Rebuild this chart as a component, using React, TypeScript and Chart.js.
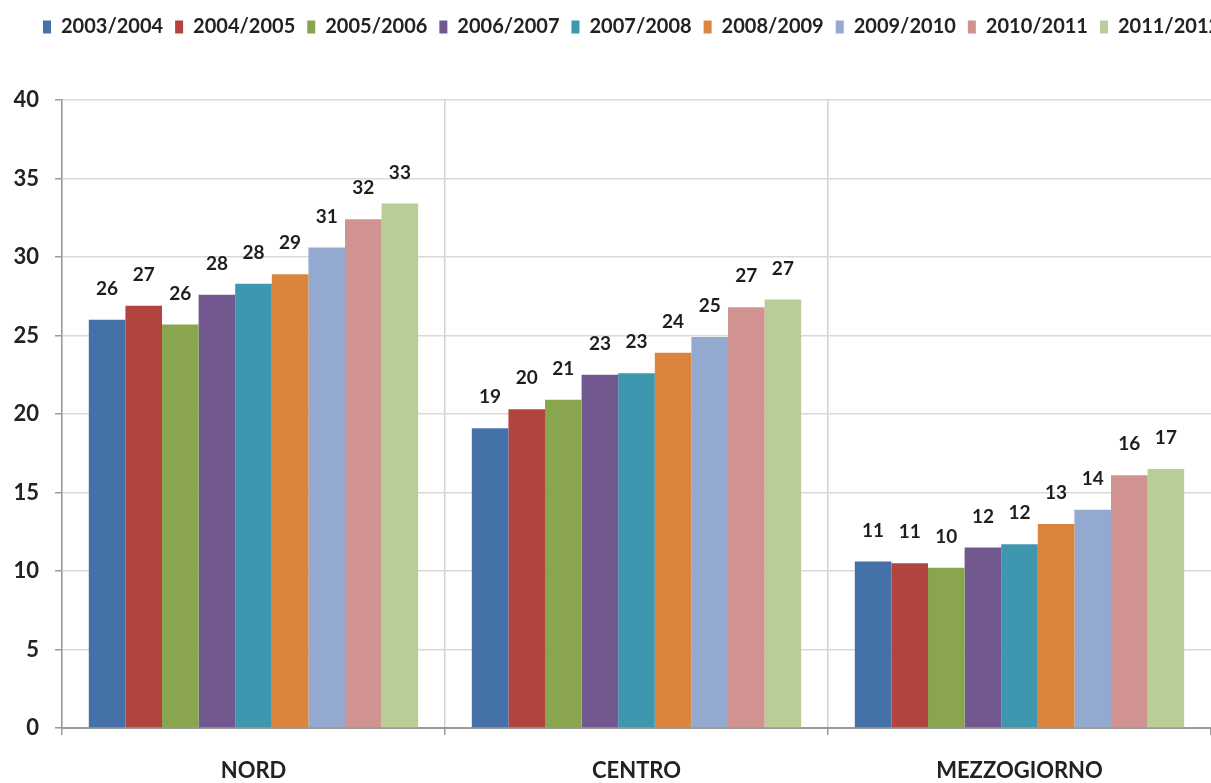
import React, { useEffect, useRef } from 'react';
import { Chart, registerables } from 'chart.js';

Chart.register(...registerables);

const categories = ['NORD', 'CENTRO', 'MEZZOGIORNO'];
const seriesLabels = [
  '2003/2004', '2004/2005', '2005/2006', '2006/2007', '2007/2008',
  '2008/2009', '2009/2010', '2010/2011', '2011/2012',
];
const s2003 = [26.0, 19.1, 10.6];
const s2004 = [26.9, 20.3, 10.5];
const s2005 = [25.7, 20.9, 10.2];
const s2006 = [27.6, 22.5, 11.5];
const s2007 = [28.3, 22.6, 11.7];
const s2008 = [28.9, 23.9, 13.0];
const s2009 = [30.6, 24.9, 13.9];
const s2010 = [32.4, 26.8, 16.1];
const s2011 = [33.4, 27.3, 16.5];
const seriesValues = [s2003, s2004, s2005, s2006, s2007, s2008, s2009, s2010, s2011];
const seriesColors = [
  '#4472A8', '#B1443F', '#89A54E', '#71588F', '#3E97AE',
  '#DB843D', '#93A9CF', '#D19392', '#B9CD96',
];
const yMin = 0;
const yMax = 40;
const yStep = 5;

const FONT = 'Lato, "Open Sans", sans-serif';

export default function App() {
  const ref = useRef<HTMLCanvasElement>(null);

  useEffect(() => {
    document.body.style.margin = '0';
    const canvas = ref.current;
    if (!canvas) return;

    const legendSpacing = {
      id: 'legendSpacing',
      beforeInit(chart: any) {
        const legend = chart.legend;
        if (!legend) return;
        const origFit = legend.fit;
        legend.fit = function () {
          const mw = this.maxWidth;
          this.maxWidth = 5000;
          origFit.call(this);
          this.maxWidth = mw;
          this.width = mw;
          this.height += 53;
        };
      },
      afterLayout(chart: any) {
        if (chart.legend) {
          chart.legend.left = 31;
          chart.legend.right = 5000;
          chart.legend.width = 5000 - 31;
        }
      },
    };

    const dataLabels = {
      id: 'dataLabels',
      afterDatasetsDraw(chart: any) {
        const ctx = chart.ctx;
        ctx.save();
        ctx.font = `bold 19px ${FONT}`;
        ctx.fillStyle = '#1e1e1e';
        ctx.textAlign = 'center';
        ctx.textBaseline = 'middle';
        chart.data.datasets.forEach((ds: any, i: number) => {
          const meta = chart.getDatasetMeta(i);
          meta.data.forEach((bar: any, j: number) => {
            ctx.fillText(String(Math.round(ds.data[j])), bar.x, bar.y - 31);
          });
        });
        ctx.restore();
      },
    };

    const chart = new Chart(canvas, {
      type: 'bar',
      data: {
        labels: categories,
        datasets: seriesValues.map((d, i) => ({
          label: seriesLabels[i],
          data: d,
          backgroundColor: seriesColors[i],
          borderWidth: 0,
          barPercentage: 1,
          categoryPercentage: 0.86,
        })),
      },
      options: {
        responsive: false,
        animation: false,
        layout: { padding: { top: 5, left: 0, right: 0, bottom: 0 } },
        plugins: {
          legend: {
            position: 'top',
            align: 'start',
            labels: {
              boxWidth: 8,
              boxHeight: 13,
              padding: 12,
              color: '#222',
              font: { family: FONT, size: 20, weight: 'bold' },
            },
          },
          tooltip: { enabled: false },
        },
        scales: {
          x: {
            grid: {
              color: (c: any) => (c.type === 'scale' ? 'rgba(0,0,0,0)' : '#d2d2d2'),
              tickColor: '#9a9a9a',
              tickLength: 7,
              lineWidth: 1.5,
              offset: true,
            },
            border: { color: '#9a9a9a', width: 2 },
            ticks: {
              color: '#222',
              padding: 23,
              font: { family: FONT, size: 22, weight: 'bold' },
            },
            afterFit: (s: any) => {
              s.height = 55;
            },
          },
          y: {
            min: yMin,
            max: yMax,
            ticks: {
              stepSize: yStep,
              padding: 16,
              color: '#222',
              font: { family: FONT, size: 22, weight: 'bold' },
            },
            grid: {
              color: '#d9d9d9',
              tickColor: '#9a9a9a',
              tickLength: 7,
              lineWidth: 1.5,
            },
            border: { color: '#9a9a9a', width: 1.5 },
            afterFit: (s: any) => {
              s.width = 62;
            },
          },
        },
      } as any,
      plugins: [legendSpacing, dataLabels],
    });

    return () => {
      chart.destroy();
    };
  }, []);

  return (
    <div style={{ width: 1211, height: 783, overflow: 'hidden' }}>
      <canvas ref={ref} width={1211} height={783} style={{ display: 'block' }} />
    </div>
  );
}
